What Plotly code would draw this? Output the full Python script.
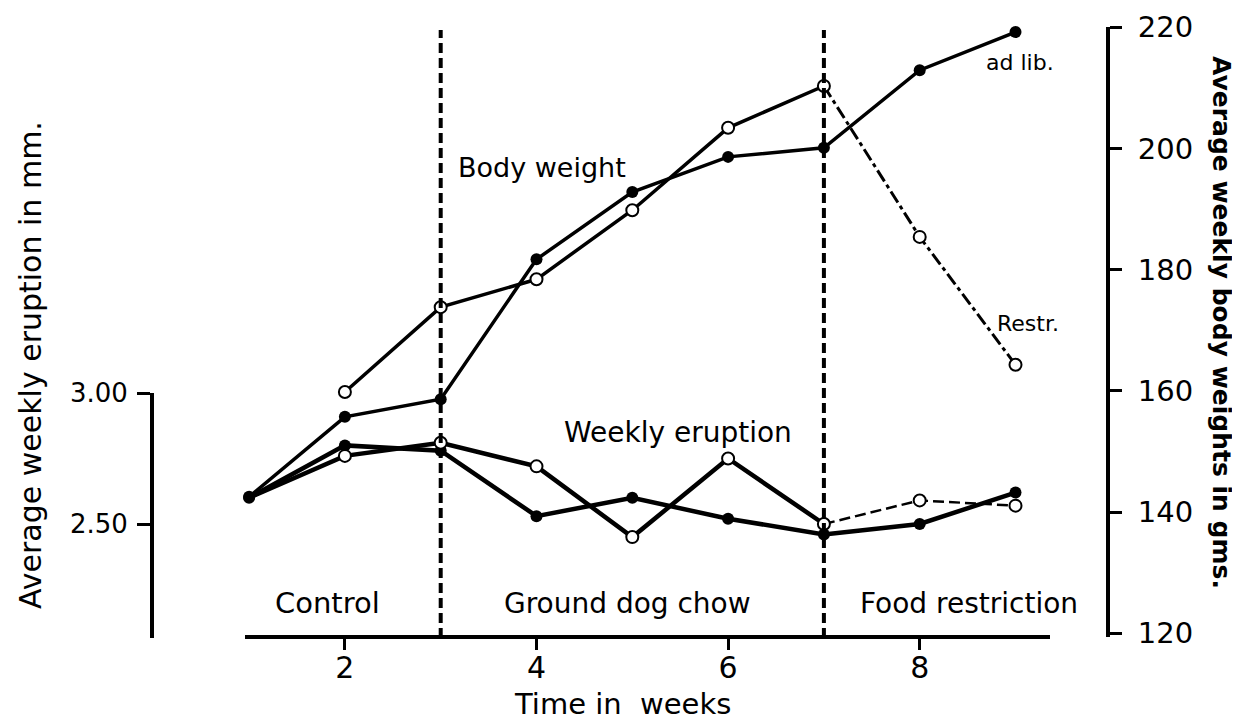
import plotly.graph_objects as go

# ---------------- data ----------------
weeks = [1, 2, 3, 4, 5, 6, 7, 8, 9]
bw_adlib = [142.5, 155.7, 158.6, 181.7, 192.8, 198.6, 200.1, 212.9, 219.2]
bw_restr_weeks = [2, 3, 4, 5, 6, 7, 8, 9]
bw_restr = [159.8, 173.8, 178.4, 189.8, 203.4, 210.3, 185.4, 164.3]
erupt_adlib = [2.60, 2.80, 2.78, 2.53, 2.60, 2.52, 2.46, 2.50, 2.62]
erupt_restr = [2.60, 2.76, 2.81, 2.72, 2.45, 2.75, 2.50, 2.59, 2.57]
restriction_start = 7
phase_bounds = [3, 7]
phase_labels = ["Control", "Ground dog chow", "Food restriction"]
x_ticks = [2, 4, 6, 8]
erupt_ticks = [2.5, 3.0]
erupt_ticklabels = ["2.50", "3.00"]
bw_ticks = [120, 140, 160, 180, 200, 220]

# the page body adds an 8px margin; size the figure so it fits the window
OFF = 8
W, H = 1240 - OFF, 726 - OFF
FONT = "DejaVu Sans"


def px(x):
    return (x - OFF) / W


def py(y):
    return 1 - (y - OFF) / H


fig = go.Figure()

# split restricted series at the start of food restriction
i_bw = bw_restr_weeks.index(restriction_start)
i_er = weeks.index(restriction_start)

# ---- body weight lines (right axis) ----
fig.add_trace(go.Scatter(x=weeks, y=bw_adlib, yaxis="y2", mode="lines",
                         line=dict(color="black", width=3.5), cliponaxis=False))
fig.add_trace(go.Scatter(x=bw_restr_weeks[:i_bw + 1], y=bw_restr[:i_bw + 1], yaxis="y2",
                         mode="lines", line=dict(color="black", width=3.5), cliponaxis=False))
fig.add_trace(go.Scatter(x=bw_restr_weeks[i_bw:], y=bw_restr[i_bw:], yaxis="y2",
                         mode="lines", line=dict(color="black", width=3,
                                                 dash="13px,4px,4px,4px"),
                         cliponaxis=False))

# ---- eruption lines (left axis) ----
fig.add_trace(go.Scatter(x=weeks, y=erupt_adlib, yaxis="y", mode="lines",
                         line=dict(color="black", width=4.5), cliponaxis=False))
fig.add_trace(go.Scatter(x=weeks[:i_er + 1], y=erupt_restr[:i_er + 1], yaxis="y",
                         mode="lines", line=dict(color="black", width=4.5), cliponaxis=False))
fig.add_trace(go.Scatter(x=weeks[i_er:], y=erupt_restr[i_er:], yaxis="y",
                         mode="lines", line=dict(color="black", width=2.5, dash="11px,5px"),
                         cliponaxis=False))

# ---- markers ----
filled = dict(symbol="circle", size=12, color="black")
hollow = dict(symbol="circle", size=12, color="white", line=dict(color="black", width=2))
fig.add_trace(go.Scatter(x=weeks, y=bw_adlib, yaxis="y2", mode="markers",
                         marker=filled, cliponaxis=False))
fig.add_trace(go.Scatter(x=weeks, y=erupt_adlib, yaxis="y", mode="markers",
                         marker=filled, cliponaxis=False))
fig.add_trace(go.Scatter(x=bw_restr_weeks, y=bw_restr, yaxis="y2", mode="markers",
                         marker=hollow, cliponaxis=False))
fig.add_trace(go.Scatter(x=weeks[1:], y=erupt_restr[1:], yaxis="y", mode="markers",
                         marker=hollow, cliponaxis=False))

# ---- phase boundaries ----
for xb in phase_bounds:
    fig.add_shape(type="line", xref="x", yref="paper", x0=xb, x1=xb,
                  y0=py(638), y1=py(30),
                  line=dict(color="black", width=4, dash="10px,5px"))

x0_px, px_per_week = 153.3, 95.8
x_dom = [245, 1050]

annotations = [
    dict(text="Body weight", x=px(542), y=py(167), size=27),
    dict(text="Weekly eruption", x=px(678), y=py(432), size=28),
    dict(text=phase_labels[0], x=px(328), y=py(603), size=29),
    dict(text=phase_labels[1], x=px(627), y=py(603), size=28),
    dict(text=phase_labels[2], x=px(969), y=py(603), size=28),
    dict(text="ad lib.", x=px(1020), y=py(63), size=22),
    dict(text="Restr.", x=px(1028), y=py(323), size=22),
    dict(text="Time in  weeks", x=px(622), y=py(704), size=29),
]
ann = [dict(text=a["text"], x=a["x"], y=a["y"], xref="paper", yref="paper",
            showarrow=False, xanchor="center", yanchor="middle",
            font=dict(family=FONT, size=a["size"], color="black"))
       for a in annotations]
ann.append(dict(text="Average weekly eruption in mm.", x=px(30), y=py(365),
                xref="paper", yref="paper", showarrow=False, textangle=-90,
                xanchor="center", yanchor="middle", borderpad=0,
                font=dict(family=FONT, size=30, color="black")))
ann.append(dict(text="<b>Average weekly body weights in gms.</b>", x=px(1222), y=py(322),
                xref="paper", yref="paper", showarrow=False, textangle=90,
                xanchor="center", yanchor="middle", borderpad=0,
                font=dict(family=FONT, size=25, color="black")))

fig.update_layout(
    width=W, height=H,
    margin=dict(l=0, r=0, t=0, b=0, autoexpand=False),
    paper_bgcolor="white", plot_bgcolor="rgba(0,0,0,0)",
    showlegend=False,
    font=dict(family=FONT, color="black"),
    annotations=ann,
    xaxis=dict(domain=[px(x_dom[0]), px(x_dom[1])],
               range=[(x_dom[0] - x0_px) / px_per_week, (x_dom[1] - x0_px) / px_per_week],
               anchor="free", position=py(637),
               showline=True, linewidth=3.5, linecolor="black",
               ticks="outside", ticklen=11, tickwidth=3, tickcolor="black",
               tickvals=x_ticks, tickfont=dict(size=30, family=FONT),
               ticklabelstandoff=-8,
               showgrid=False, zeroline=False),
    yaxis=dict(domain=[py(638), py(393)],
               range=[2.50 - (638 - 524) / 262, 3.00],
               anchor="free", position=px(152), side="left",
               showline=True, linewidth=4, linecolor="black",
               ticks="outside", ticklen=13, tickwidth=3, tickcolor="black",
               tickvals=erupt_ticks, ticktext=erupt_ticklabels,
               tickfont=dict(size=26, family=FONT), ticklabelstandoff=4,
               showgrid=False, zeroline=False),
    yaxis2=dict(domain=[py(637), py(27)],
                range=[140 - (637 - 512) / 6.06, 140 + (512 - 27) / 6.06],
                anchor="free", position=px(1108), side="right",
                showline=True, linewidth=4, linecolor="black",
                ticks="outside", ticklen=12, tickwidth=3, tickcolor="black",
                tickvals=bw_ticks, tickfont=dict(size=29, family=FONT),
                ticklabelstandoff=10,
                showgrid=False, zeroline=False),
)

fig.write_html("out.html")
